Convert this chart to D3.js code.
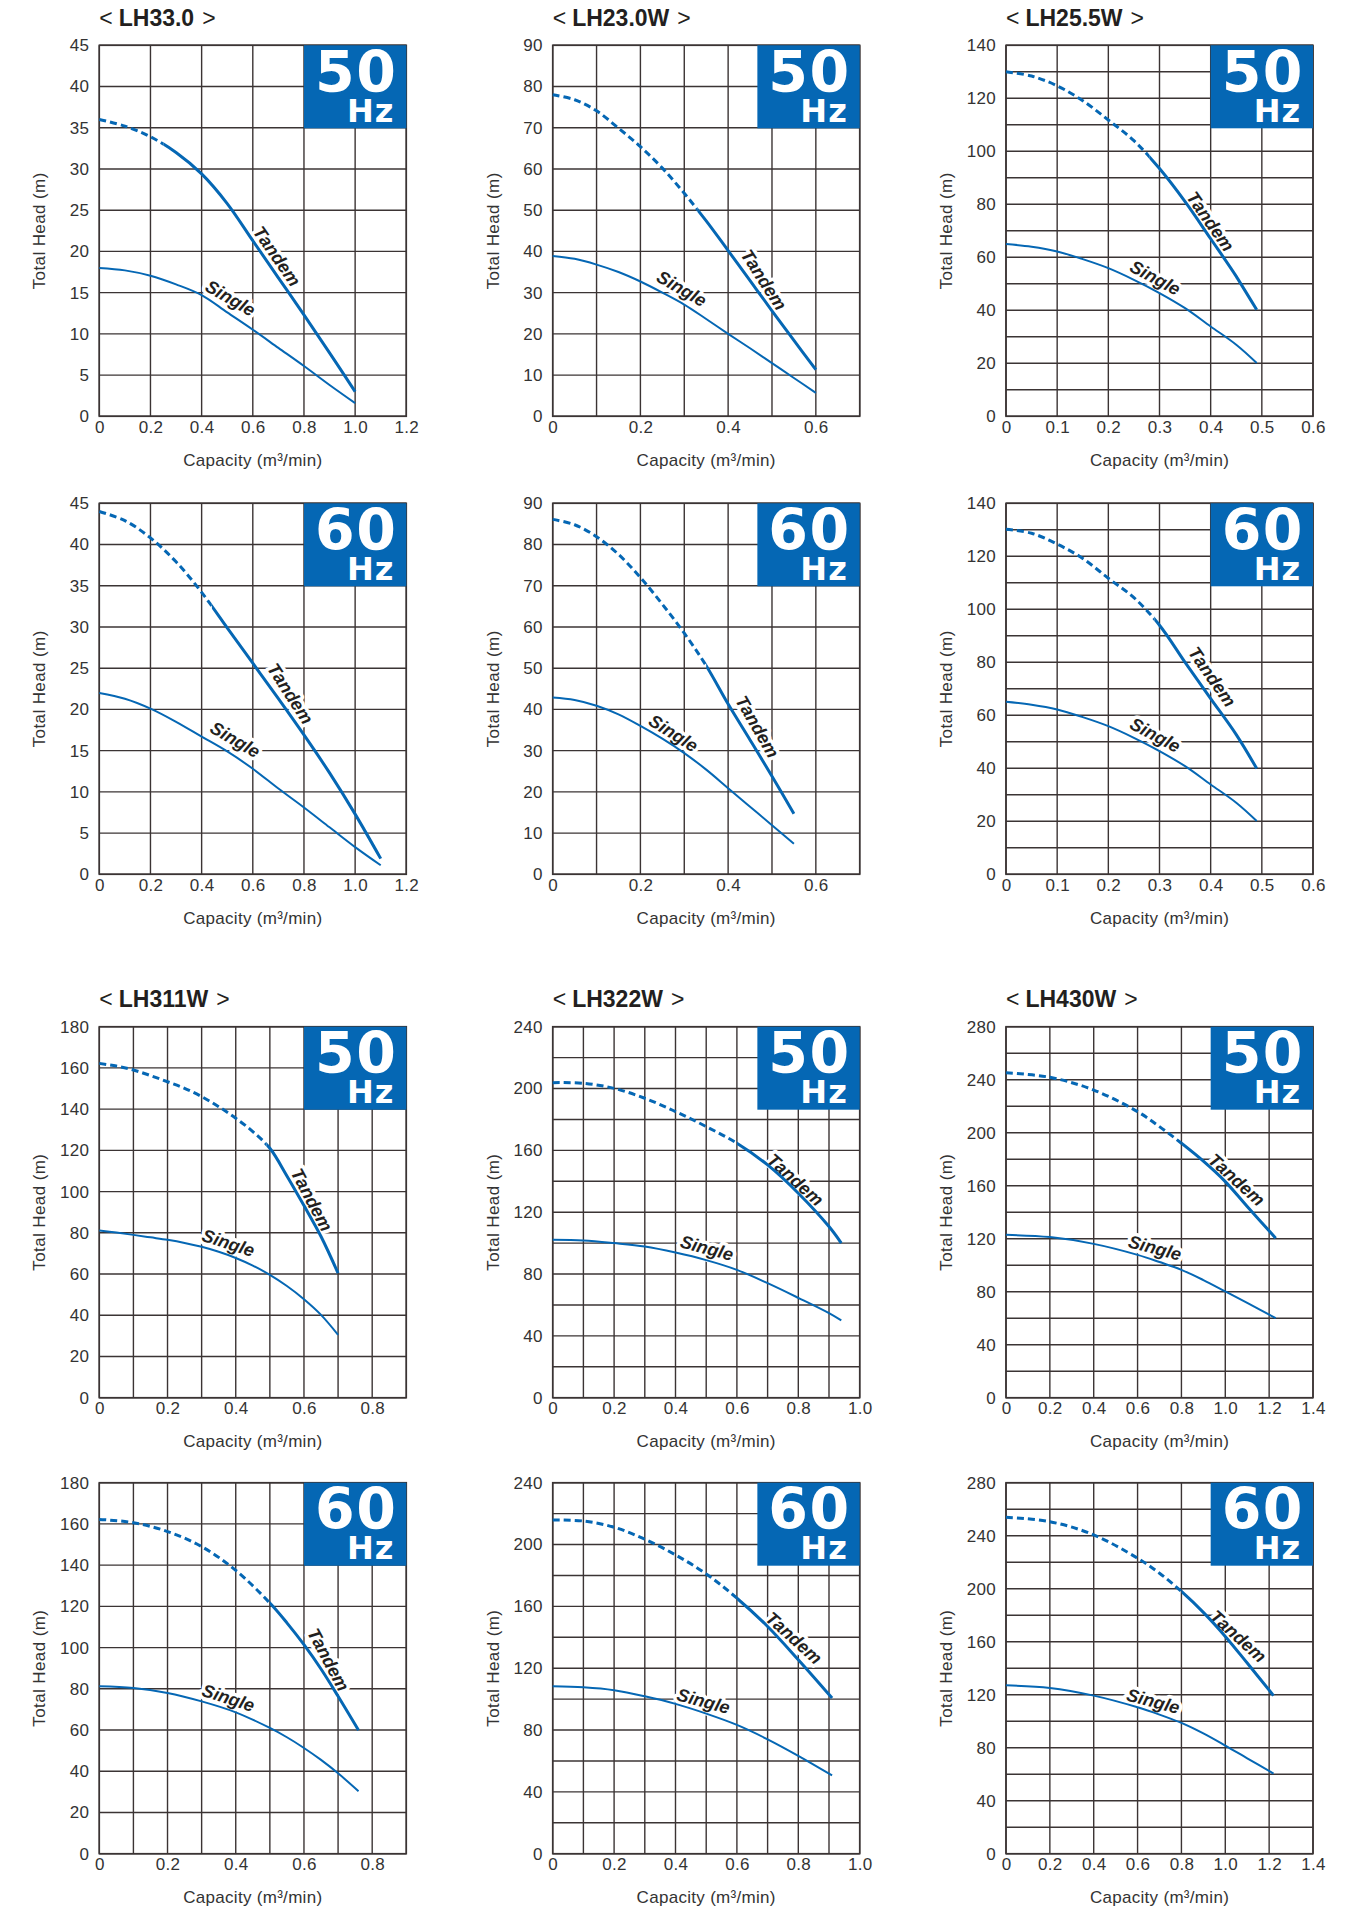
<!DOCTYPE html>
<html>
<head>
<meta charset="utf-8">
<script src="https://cdn.jsdelivr.net/npm/d3@7"></script>
<style>
  body { margin: 0; background: #fff; }
  svg { display: block; font-family: 'Liberation Sans', Arial, Helvetica, sans-serif; }
</style>
</head>
<body>
<div id="chart"></div>
<script>
// ---- data (capacity m3/min, total head m) ----
const lh330_50_capacity = [0, 0.1, 0.2, 0.3, 0.4, 0.5, 0.6, 0.7, 0.8, 0.9, 1.0];
const lh330_50_tandem   = [36, 35.2, 33.9, 32.0, 29.4, 25.8, 21.3, 16.8, 12.3, 7.7, 3.0];
const lh330_50_single   = [18, 17.7, 17.05, 16.0, 14.7, 12.6, 10.5, 8.3, 6.1, 3.8, 1.6];

const lh330_60_capacity = [0, 0.1, 0.2, 0.3, 0.4, 0.5, 0.6, 0.7, 0.8, 0.9, 1.0, 1.1];
const lh330_60_tandem   = [44, 42.9, 40.8, 37.9, 34.2, 29.9, 25.6, 21.3, 16.9, 12.3, 7.3, 1.9];
const lh330_60_single   = [22, 21.3, 20.1, 18.5, 16.7, 14.9, 12.8, 10.4, 8.1, 5.7, 3.3, 1.1];

const lh230w_50_capacity = [0, 0.05, 0.1, 0.15, 0.2, 0.25, 0.3, 0.35, 0.4, 0.45, 0.5, 0.55, 0.6];
const lh230w_50_tandem   = [78, 76.8, 74.1, 69.9, 65.4, 60.2, 54.1, 47.4, 40.2, 32.9, 25.6, 18.4, 11.3];
const lh230w_50_single   = [38.9, 38.2, 36.8, 35.0, 32.7, 30.0, 27.1, 23.6, 20.0, 16.5, 12.9, 9.3, 5.7];

const lh230w_60_capacity = [0, 0.05, 0.1, 0.15, 0.2, 0.25, 0.3, 0.35, 0.4, 0.45, 0.5, 0.55];
const lh230w_60_tandem   = [86.1, 84.8, 81.9, 77.6, 72.0, 65.5, 58.5, 50.6, 41.3, 32.6, 23.8, 14.7];
const lh230w_60_single   = [42.9, 42.3, 40.9, 38.8, 36.0, 32.9, 29.4, 25.4, 20.9, 16.4, 11.9, 7.4];

const lh255w_50_capacity = [0, 0.05, 0.1, 0.15, 0.2, 0.25, 0.3, 0.35, 0.4, 0.45, 0.49];
const lh255w_50_tandem   = [130, 128.4, 124.7, 119.1, 111.8, 104.0, 93.5, 81.0, 67.0, 52.8, 40.2];
const lh255w_50_single   = [65, 64, 62.2, 59.3, 55.9, 51.5, 46.5, 40.8, 33.9, 27.0, 20.1];

const lh255w_60_capacity = [0, 0.05, 0.1, 0.15, 0.2, 0.25, 0.3, 0.35, 0.4, 0.45, 0.49];
const lh255w_60_tandem   = [130.2, 128.7, 124.6, 119.2, 111.7, 104.4, 94.0, 80.0, 66.3, 52.7, 39.9];
const lh255w_60_single   = [65.1, 64, 62.2, 59.3, 55.9, 51.5, 46.5, 40.8, 33.9, 27.0, 20.1];

const lh311w_50_capacity = [0, 0.05, 0.1, 0.15, 0.2, 0.25, 0.3, 0.35, 0.4, 0.45, 0.5, 0.55, 0.6, 0.65, 0.7];
const lh311w_50_tandem   = [162.2, 160.9, 159.0, 156.3, 153.3, 150.1, 146.1, 141.2, 135.6, 129.1, 121.0, 107.6, 93.2, 78.2, 60.4];
const lh311w_50_single   = [81.1, 80.1, 79.0, 77.8, 76.6, 75.1, 73.2, 70.8, 67.8, 64.1, 59.6, 54.2, 47.8, 40.2, 30.5];

const lh311w_60_capacity = [0, 0.1, 0.2, 0.3, 0.4, 0.5, 0.55, 0.6, 0.65, 0.7, 0.76];
const lh311w_60_tandem   = [162.2, 160.6, 156.3, 149.0, 137.5, 121.6, 112.0, 101.4, 89.6, 76.4, 59.9];
const lh311w_60_single   = [81.2, 80.4, 78.0, 73.9, 68.6, 61.0, 56.5, 51.3, 45.5, 39.0, 30.3];

const lh322w_50_capacity = [0, 0.1, 0.2, 0.3, 0.4, 0.5, 0.6, 0.7, 0.8, 0.9, 0.94];
const lh322w_50_tandem   = [203.8, 203.4, 200.1, 193.7, 185.1, 175.4, 164.6, 150.6, 132.3, 110.7, 100.0];
const lh322w_50_single   = [102.1, 101.7, 100.0, 97.8, 93.9, 89.0, 82.7, 74.1, 64.6, 54.7, 50.0];

const lh322w_60_capacity = [0, 0.1, 0.2, 0.3, 0.4, 0.5, 0.6, 0.7, 0.8, 0.91];
const lh322w_60_tandem   = [215.9, 215.2, 211.2, 203.4, 193.3, 181.0, 165.3, 147.0, 125.5, 100.7];
const lh322w_60_single   = [108.3, 107.6, 105.7, 101.8, 96.9, 90.6, 83.3, 74.0, 63.3, 50.6];

const lh430w_50_capacity = [0, 0.2, 0.4, 0.6, 0.7, 0.8, 0.9, 1.0, 1.1, 1.23];
const lh430w_50_tandem   = [245.3, 241.8, 232.2, 215.9, 204.6, 192.0, 178.5, 163.1, 144.3, 120.4];
const lh430w_50_single   = [122.9, 121.2, 116.1, 107.8, 102.4, 96.5, 88.8, 80.2, 71.5, 60.1];

const lh430w_60_capacity = [0, 0.2, 0.4, 0.6, 0.7, 0.8, 0.9, 1.0, 1.1, 1.22];
const lh430w_60_tandem   = [253.9, 250.6, 240.6, 223.0, 211.7, 197.9, 182.1, 164.0, 143.9, 119.3];
const lh430w_60_single   = [127.1, 125.1, 119.3, 110.5, 105.0, 98.7, 90.8, 81.6, 72.0, 60.5];

// ---- tick labels ----
const lh330_xTicks  = [0, 0.2, 0.4, 0.6, 0.8, 1.0, 1.2];
const lh330_yTicks  = [0, 5, 10, 15, 20, 25, 30, 35, 40, 45];
const lh230w_xTicks = [0, 0.2, 0.4, 0.6];
const lh230w_yTicks = [0, 10, 20, 30, 40, 50, 60, 70, 80, 90];
const lh255w_xTicks = [0, 0.1, 0.2, 0.3, 0.4, 0.5, 0.6];
const lh255w_yTicks = [0, 20, 40, 60, 80, 100, 120, 140];
const lh311w_xTicks = [0, 0.2, 0.4, 0.6, 0.8];
const lh311w_yTicks = [0, 20, 40, 60, 80, 100, 120, 140, 160, 180];
const lh322w_xTicks = [0, 0.2, 0.4, 0.6, 0.8, 1.0];
const lh322w_yTicks = [0, 40, 80, 120, 160, 200, 240];
const lh430w_xTicks = [0, 0.2, 0.4, 0.6, 0.8, 1.0, 1.2, 1.4];
const lh430w_yTicks = [0, 40, 80, 120, 160, 200, 240, 280];

// ---- layout ----
const width = 1361;
const height = 1908;
const colLeft = [99.3, 552.7, 1006];
const rowTop = [45.3, 503.3, 1026.7, 1482.7];
const plotW = 307;
const plotH = 371;
const blue = '#0567b4';
const gridColor = '#3b3434';
const textColor = '#333';

function zip(q, h) { return q.map((v, i) => [v, h[i]]); }

const panels = [
    {model: 'LH33.0', hz: '50', row: 0, col: 0, q: lh330_50_capacity, tandem: lh330_50_tandem, single: lh330_50_single,
     xTicks: lh330_xTicks, yTicks: lh330_yTicks, xMax: 1.2, yMax: 45, xGrid: 0.2, yGrid: 5, dashTo: 0.25,
     singleLabel: [0.512, 14.3, 30], tandemLabel: [0.694, 19.4, 55]},
    {model: 'LH23.0W', hz: '50', row: 0, col: 1, q: lh230w_50_capacity, tandem: lh230w_50_tandem, single: lh230w_50_single,
     xTicks: lh230w_xTicks, yTicks: lh230w_yTicks, xMax: 0.7, yMax: 90, xGrid: 0.1, yGrid: 10, dashTo: 0.33,
     singleLabel: [0.294, 30.9, 30], tandemLabel: [0.481, 33.1, 57]},
    {model: 'LH25.5W', hz: '50', row: 0, col: 2, q: lh255w_50_capacity, tandem: lh255w_50_tandem, single: lh255w_50_single,
     xTicks: lh255w_xTicks, yTicks: lh255w_yTicks, xMax: 0.6, yMax: 140, xGrid: 0.1, yGrid: 10, dashTo: 0.28,
     singleLabel: [0.2915, 52.2, 28], tandemLabel: [0.399, 73.5, 55]},
    {model: 'LH33.0', hz: '60', row: 1, col: 0, q: lh330_60_capacity, tandem: lh330_60_tandem, single: lh330_60_single,
     xTicks: lh330_xTicks, yTicks: lh330_yTicks, xMax: 1.2, yMax: 45, xGrid: 0.2, yGrid: 5, dashTo: 0.44,
     singleLabel: [0.531, 16.3, 30], tandemLabel: [0.746, 21.9, 57]},
    {model: 'LH23.0W', hz: '60', row: 1, col: 1, q: lh230w_60_capacity, tandem: lh230w_60_tandem, single: lh230w_60_single,
     xTicks: lh230w_xTicks, yTicks: lh230w_yTicks, xMax: 0.7, yMax: 90, xGrid: 0.1, yGrid: 10, dashTo: 0.35,
     singleLabel: [0.275, 34.2, 32], tandemLabel: [0.466, 35.8, 60]},
    {model: 'LH25.5W', hz: '60', row: 1, col: 2, q: lh255w_60_capacity, tandem: lh255w_60_tandem, single: lh255w_60_single,
     xTicks: lh255w_xTicks, yTicks: lh255w_yTicks, xMax: 0.6, yMax: 140, xGrid: 0.1, yGrid: 10, dashTo: 0.29,
     singleLabel: [0.2915, 52.5, 28], tandemLabel: [0.4024, 74.5, 55]},
    {model: 'LH311W', hz: '50', row: 2, col: 0, q: lh311w_50_capacity, tandem: lh311w_50_tandem, single: lh311w_50_single,
     xTicks: lh311w_xTicks, yTicks: lh311w_yTicks, xMax: 0.9, yMax: 180, xGrid: 0.1, yGrid: 20, dashTo: 0.49,
     singleLabel: [0.378, 75.0, 18], tandemLabel: [0.622, 96.0, 62]},
    {model: 'LH322W', hz: '50', row: 2, col: 1, q: lh322w_50_capacity, tandem: lh322w_50_tandem, single: lh322w_50_single,
     xTicks: lh322w_xTicks, yTicks: lh322w_yTicks, xMax: 1.0, yMax: 240, xGrid: 0.1, yGrid: 20, dashTo: 0.6,
     singleLabel: [0.502, 96.7, 15], tandemLabel: [0.79, 140.9, 42]},
    {model: 'LH430W', hz: '50', row: 2, col: 2, q: lh430w_50_capacity, tandem: lh430w_50_tandem, single: lh430w_50_single,
     xTicks: lh430w_xTicks, yTicks: lh430w_yTicks, xMax: 1.4, yMax: 280, xGrid: 0.2, yGrid: 20, dashTo: 0.8,
     singleLabel: [0.679, 112.9, 15], tandemLabel: [1.051, 164.4, 42]},
    {model: 'LH311W', hz: '60', row: 3, col: 0, q: lh311w_60_capacity, tandem: lh311w_60_tandem, single: lh311w_60_single,
     xTicks: lh311w_xTicks, yTicks: lh311w_yTicks, xMax: 0.9, yMax: 180, xGrid: 0.1, yGrid: 20, dashTo: 0.5,
     singleLabel: [0.378, 75.5, 18], tandemLabel: [0.671, 94.1, 62]},
    {model: 'LH322W', hz: '60', row: 3, col: 1, q: lh322w_60_capacity, tandem: lh322w_60_tandem, single: lh322w_60_single,
     xTicks: lh322w_xTicks, yTicks: lh322w_yTicks, xMax: 1.0, yMax: 240, xGrid: 0.1, yGrid: 20, dashTo: 0.6,
     singleLabel: [0.491, 98.6, 15], tandemLabel: [0.785, 139.5, 42]},
    {model: 'LH430W', hz: '60', row: 3, col: 2, q: lh430w_60_capacity, tandem: lh430w_60_tandem, single: lh430w_60_single,
     xTicks: lh430w_xTicks, yTicks: lh430w_yTicks, xMax: 1.4, yMax: 280, xGrid: 0.2, yGrid: 20, dashTo: 0.8,
     singleLabel: [0.671, 115.0, 15], tandemLabel: [1.058, 164.0, 42]}
];

const svg = d3.select('#chart')
  .append('svg')
    .attr('width', width)
    .attr('height', height);

panels.forEach(drawPanel);

function drawPanel(p, idx) {
    const g = svg.append('g')
        .attr('transform', `translate(${colLeft[p.col]}, ${rowTop[p.row]})`);

    const x = d3.scaleLinear().domain([0, p.xMax]).range([0, plotW]);
    const y = d3.scaleLinear().domain([0, p.yMax]).range([plotH, 0]);

    // title only above the 50 Hz rows
    if (p.hz === '50') {
        const t = g.append('text')
            .attr('x', 0)
            .attr('y', -19.5)
            .style('font-size', '23px')
            .style('fill', '#231f20');
        t.append('tspan').text('<');
        t.append('tspan').attr('dx', 6).style('font-weight', 'bold').text(p.model);
        t.append('tspan').attr('dx', 8).text('>');
    }

    // grid
    const grid = g.append('g').attr('class', 'grid');
    grid.selectAll('.vgrid')
        .data(d3.range(0, p.xMax + 1e-6, p.xGrid))
      .enter().append('line')
        .attr('x1', d => x(d)).attr('x2', d => x(d))
        .attr('y1', 0).attr('y2', plotH)
        .style('stroke', gridColor).style('stroke-width', 1.4);
    grid.selectAll('.hgrid')
        .data(d3.range(0, p.yMax + 1e-6, p.yGrid))
      .enter().append('line')
        .attr('x1', 0).attr('x2', plotW)
        .attr('y1', d => y(d)).attr('y2', d => y(d))
        .style('stroke', gridColor).style('stroke-width', 1.4);
    grid.append('rect')
        .attr('width', plotW).attr('height', plotH)
        .style('fill', 'none').style('stroke', gridColor).style('stroke-width', 1.6);

    // axes
    const fmt = d => d === 0 ? '0' : d3.format('.1f')(d);
    const xAxis = g.append('g')
        .attr('transform', `translate(0, ${plotH})`)
        .call(d3.axisBottom(x).tickValues(p.xTicks).tickSize(0).tickPadding(4.5).tickFormat(fmt));
    const yAxis = g.append('g')
        .call(d3.axisLeft(y).tickValues(p.yTicks).tickSize(0).tickPadding(10).tickFormat(d3.format('d')));
    [xAxis, yAxis].forEach(a => {
        a.select('.domain').remove();
        a.selectAll('text')
            .style('font-family', "'Liberation Sans', Arial, sans-serif")
            .style('font-size', '17px')
            .style('letter-spacing', '0.3px')
            .style('fill', textColor);
    });

    g.append('text')
        .attr('x', plotW / 2)
        .attr('y', plotH + 49.5)
        .attr('text-anchor', 'middle')
        .style('font-size', '17px')
        .style('letter-spacing', '0.3px')
        .style('fill', textColor)
        .text('Capacity (m³/min)');

    g.append('text')
        .attr('transform', `translate(-54, ${plotH / 2}) rotate(-90)`)
        .attr('text-anchor', 'middle')
        .style('font-size', '17px')
        .style('letter-spacing', '0.4px')
        .style('fill', textColor)
        .text('Total Head (m)');

    // frequency badge
    const boxW = plotW / 3;
    const box = g.append('g').attr('transform', `translate(${plotW - boxW}, 0)`);
    box.append('rect')
        .attr('width', boxW).attr('height', 83)
        .style('fill', blue);
    const badge = box.append('text')
        .style('font-family', "'DejaVu Sans', sans-serif")
        .style('font-weight', 'bold')
        .style('fill', '#fff');
    badge.append('tspan')
        .attr('x', 11).attr('y', 46.5)
        .style('font-size', '57px')
        .style('letter-spacing', '1.5px')
        .text(p.hz);
    badge.append('tspan')
        .attr('x', 43).attr('y', 76.4)
        .style('font-size', '32px')
        .style('letter-spacing', '1px')
        .text('Hz');

    // curve labels (white halo knocks out grid)
    [['Single', p.singleLabel], ['Tandem', p.tandemLabel]].forEach(([name, l]) => {
        g.append('text')
            .attr('transform', `translate(${x(l[0])}, ${y(l[1])}) rotate(${l[2]})`)
            .attr('text-anchor', 'middle')
            .attr('dominant-baseline', 'central')
            .style('font-size', '18px')
            .style('font-weight', 'bold')
            .style('font-style', 'italic')
            .style('fill', '#231f20')
            .style('stroke', '#fff')
            .style('stroke-width', 7)
            .style('stroke-linejoin', 'round')
            .style('paint-order', 'stroke')
            .text(name);
    });

    // curves
    const line = d3.line()
        .x(d => x(d[0]))
        .y(d => y(d[1]))
        .curve(d3.curveCatmullRom.alpha(0.5));

    const clipDash = `dash-${idx}`;
    const clipSolid = `solid-${idx}`;
    const defs = g.append('defs');
    defs.append('clipPath').attr('id', clipDash)
      .append('rect')
        .attr('x', -10).attr('y', -10)
        .attr('width', x(p.dashTo) + 10).attr('height', plotH + 20);
    defs.append('clipPath').attr('id', clipSolid)
      .append('rect')
        .attr('x', x(p.dashTo)).attr('y', -10)
        .attr('width', plotW).attr('height', plotH + 20);

    const tandemData = zip(p.q, p.tandem);
    g.append('path')
        .datum(tandemData)
        .attr('d', line)
        .attr('clip-path', `url(#${clipDash})`)
        .style('fill', 'none').style('stroke', blue)
        .style('stroke-width', 3).style('stroke-dasharray', '7,4');
    g.append('path')
        .datum(tandemData)
        .attr('d', line)
        .attr('clip-path', `url(#${clipSolid})`)
        .style('fill', 'none').style('stroke', blue)
        .style('stroke-width', 3);

    g.append('path')
        .datum(zip(p.q, p.single))
        .attr('d', line)
        .style('fill', 'none').style('stroke', blue)
        .style('stroke-width', 2);
}
</script>
</body>
</html>
